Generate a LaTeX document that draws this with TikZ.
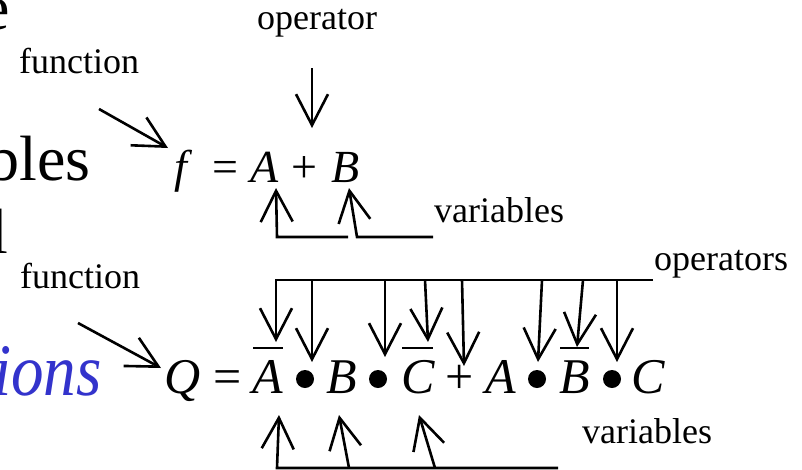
\documentclass[tikz,border=0pt]{standalone}
\usepackage{fontspec}
\setmainfont{Liberation Serif}
\usetikzlibrary{arrows.meta}
\definecolor{slideblue}{RGB}{51,51,204}
\begin{document}
\begin{tikzpicture}[x=1pt,y=-1pt,
  lbl/.style={font=\fontsize{36}{36}\selectfont, inner sep=0pt, anchor=base west},
  mf/.style={font=\fontsize{46}{46}\selectfont, inner sep=0pt, anchor=base},
  mq/.style={font=\fontsize{50}{50}\selectfont, inner sep=0pt, anchor=base},
  dot/.style={circle, fill=black, inner sep=0pt, minimum size=18pt},
  big/.style={font=\fontsize{64}{64}\selectfont, inner sep=0pt, anchor=base east},
  conn/.style={line width=2.6pt},
  arr/.style={conn, -{Straight Barb[length=31pt,width=32pt]}},
  ovbar/.style={line width=2.4pt}]
\useasboundingbox (0,0) rectangle (802,469);
\clip (0,0) rectangle (802,469);
\fill[white] (0,0) rectangle (802,469);

% partial slide text at the left edge
\node[big] (t1) at (10,29) {e};
\node[big] (t2) at (91,180) {bles};
\node[big] (t3) at (8,253) {l};
\node[big, font=\fontsize{74}{74}\selectfont\itshape, text=slideblue] (t4) at (102,395) {\scalebox{0.88}[1]{ions}};

% labels
\node[lbl] (fn1) at (19,73) {function};
\node[lbl] (op1) at (257,29) {operator};
\node[lbl] (var1) at (434,222) {variables};
\node[lbl] (fn2) at (20,288) {function};
\node[lbl] (ops) at (654,270) {operators};
\node[lbl] (var2) at (582,443) {variables};

% f = A + B
\node[mf] (f) at (181,182) {\itshape f};
\node[mf] (eq1) at (225,182) {=};
\node[mf] (fa) at (265,182) {\itshape A};
\node[mf] (plus1) at (304.5,182) {+};
\node[mf] (fb) at (346,182) {\itshape B};

% Q = ...
\node[mq] (q) at (183,393) {\itshape Q};
\node[mq] (eq2) at (227.5,393) {=};
\node[mq] (qa1) at (268,393) {\itshape A};
\node[dot] (d1) at (305,379) {};
\node[mq] (qb1) at (342,393) {\itshape B};
\node[dot] (d2) at (378,379) {};
\node[mq] (qc1) at (418,393) {\itshape C};
\node[mq] (plus2) at (459.5,393) {+};
\node[mq] (qa2) at (501,393) {\itshape A};
\node[dot] (d3) at (537,379) {};
\node[mq] (qb2) at (575,393) {\itshape B};
\node[dot] (d4) at (612,379) {};
\node[mq] (qc2) at (648,393) {\itshape C};

% overbars
\draw[ovbar] (253,348) -- (283,348);
\draw[ovbar] (402,348) -- (433,348);
\draw[ovbar] (560,348) -- (589,348);

% function arrows
\coordinate (fn1s) at (99,109);
\coordinate (fn1t) at (168,148);
\draw[arr] (fn1s) -- (fn1t);
\coordinate (fn2s) at (78,323);
\coordinate (fn2t) at (161,368);
\draw[arr] (fn2s) -- (fn2t);

% operator arrow (f row)
\coordinate (op1s) at (312,68);
\coordinate (op1t) at (312,128);
\draw[arr] (op1s) -- (op1t);

% variables arrows (f row)
\coordinate (va1) at (277,237);
\coordinate (va1e) at (348,237);
\coordinate (va1t) at (276,188);
\coordinate (vb1) at (357,237);
\coordinate (vb1e) at (433,237);
\coordinate (vb1t) at (349,188);
\draw[arr] (va1e) -- (va1) -- (va1t);
\draw[arr] (vb1e) -- (vb1) -- (vb1t);

% operators arrows (Q row)
\coordinate (ol) at (276,280);
\coordinate (or) at (653,280);
\draw[arr] (or) -- (ol) -- (276,342);
\draw[arr] (312,280) -- (312,362);
\draw[arr] (385,280) -- (385,357);
\draw[arr] (425,280) -- (428,342);
\draw[arr] (462,280) -- (464,366);
\draw[arr] (542,280) -- (538,362);
\draw[arr] (583,280) -- (577,347);
\draw[arr] (617,280) -- (617,362);

% variables arrows (Q row)
\coordinate (vl) at (277,468);
\coordinate (vr) at (558,468);
\draw[arr] (vr) -- (vl) -- (279,415);
\draw[arr] (349,468) -- (339,415);
\draw[arr] (435,468) -- (419,415);
\end{tikzpicture}
\end{document}
